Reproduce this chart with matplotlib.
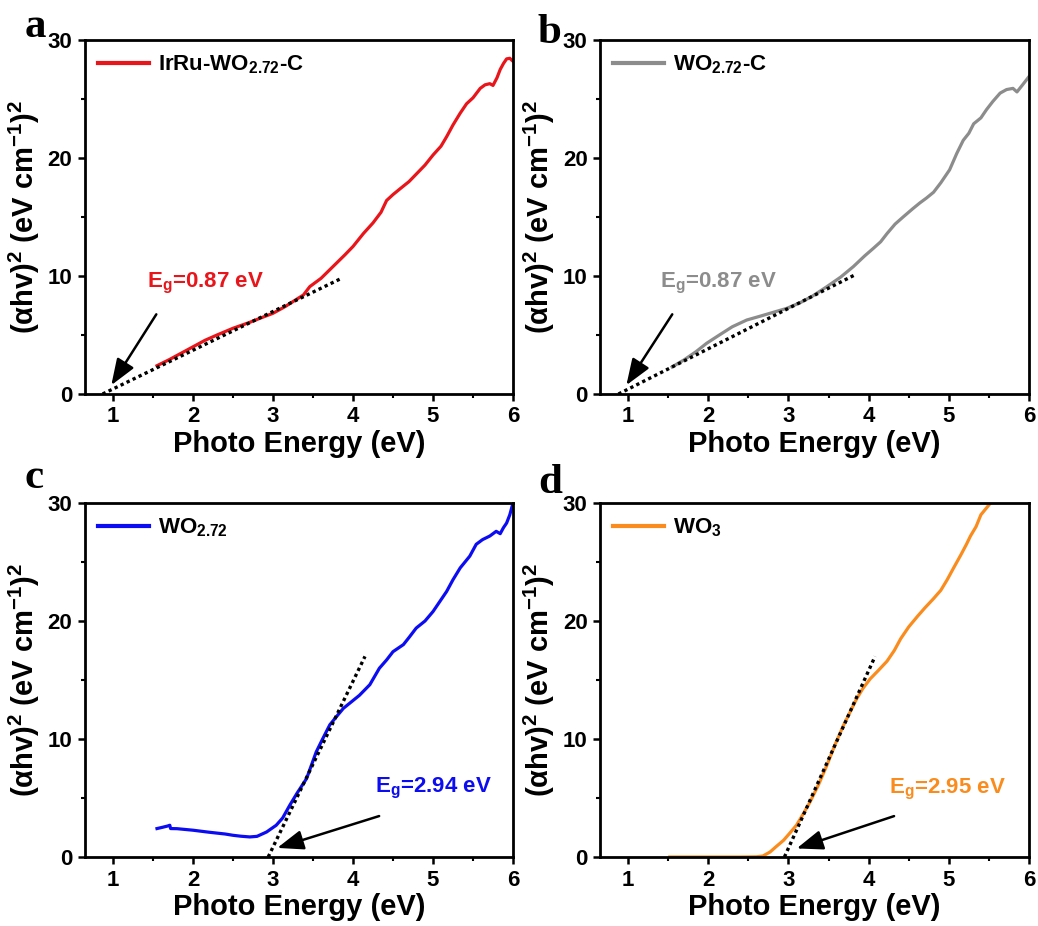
import matplotlib
matplotlib.use("Agg")
import matplotlib.pyplot as plt

plt.rcParams["font.family"] = "Liberation Sans"
plt.rcParams["font.weight"] = "bold"
plt.rcParams["mathtext.fontset"] = "custom"
plt.rcParams["mathtext.rm"] = "Liberation Sans:bold"
plt.rcParams["mathtext.bf"] = "Liberation Sans:bold"
plt.rcParams["mathtext.it"] = "Liberation Sans:bold"
plt.rcParams["mathtext.default"] = "bf"

# Tauc plots, (alpha h nu)^2 vs photon energy
a_x = [1.55, 1.70, 1.85, 2.00, 2.15, 2.30, 2.50, 2.70, 2.85, 3.00, 3.15, 3.30, 3.38, 3.46,
       3.60, 3.75, 3.90, 4.00, 4.13, 4.25, 4.35, 4.42, 4.50, 4.59, 4.70, 4.80, 4.90,
       5.00, 5.10, 5.17, 5.25, 5.34, 5.42, 5.50, 5.59, 5.65, 5.71, 5.75, 5.80, 5.84,
       5.88, 5.92, 5.96, 6.00]
a_y = [2.40, 2.90, 3.45, 4.00, 4.55, 5.00, 5.57, 6.05, 6.45, 6.84, 7.40, 8.05, 8.39, 9.10,
       9.80, 10.80, 11.80, 12.50, 13.60, 14.50, 15.40, 16.40, 16.90, 17.40, 18.00, 18.70, 19.40,
       20.25, 21.00, 21.80, 22.80, 23.80, 24.60, 25.10, 25.90, 26.20, 26.30, 26.15, 26.80, 27.50,
       28.00, 28.40, 28.45, 28.20]

b_x = [1.55, 1.70, 1.85, 1.98, 2.15, 2.30, 2.48, 2.65, 2.80, 2.98, 3.15, 3.30, 3.48, 3.65,
       3.81, 3.95, 4.06, 4.15, 4.23, 4.33, 4.43, 4.55, 4.64, 4.72, 4.81, 4.90, 5.01,
       5.10, 5.18, 5.25, 5.31, 5.40, 5.47, 5.55, 5.64, 5.72, 5.80, 5.85, 5.92, 6.00]
b_y = [2.30, 2.90, 3.60, 4.30, 5.05, 5.70, 6.27, 6.60, 6.90, 7.26, 7.75, 8.30, 9.10, 9.90,
       10.80, 11.70, 12.35, 12.90, 13.60, 14.40, 15.00, 15.70, 16.20, 16.60, 17.10, 17.90, 19.00,
       20.40, 21.50, 22.10, 22.90, 23.40, 24.10, 24.80, 25.50, 25.80, 25.90, 25.60, 26.20, 26.90]

c_x = [1.55, 1.62, 1.68, 1.71, 1.72, 1.80, 2.00, 2.20, 2.40, 2.50, 2.60, 2.71, 2.80, 2.92,
       3.04, 3.12, 3.21, 3.30, 3.42, 3.54, 3.62, 3.71, 3.80, 3.88, 3.98, 4.08, 4.21,
       4.33, 4.42, 4.50, 4.63, 4.70, 4.79, 4.90, 5.00, 5.08, 5.17, 5.25, 5.34, 5.46,
       5.54, 5.62, 5.71, 5.79, 5.84, 5.88, 5.92, 5.96, 6.00]
c_y = [2.41, 2.52, 2.62, 2.69, 2.41, 2.40, 2.27, 2.10, 1.95, 1.84, 1.76, 1.70, 1.75, 2.12,
       2.69, 3.30, 4.39, 5.40, 6.65, 8.90, 10.00, 11.20, 11.95, 12.60, 13.15, 13.70, 14.60,
       16.00, 16.70, 17.40, 18.00, 18.60, 19.40, 20.00, 20.80, 21.60, 22.50, 23.50, 24.50, 25.50,
       26.50, 26.90, 27.20, 27.60, 27.40, 27.90, 28.30, 29.00, 30.00]

d_x = [1.52, 1.80, 2.10, 2.40, 2.60, 2.68, 2.77, 2.85, 2.94, 3.02, 3.10, 3.18, 3.27, 3.38,
       3.48, 3.58, 3.69, 3.77, 3.85, 3.93, 4.02, 4.12, 4.23, 4.32, 4.40, 4.50, 4.61,
       4.70, 4.81, 4.90, 4.98, 5.06, 5.15, 5.22, 5.27, 5.34, 5.40, 5.46, 5.52]
d_y = [0.00, 0.00, 0.00, 0.00, 0.02, 0.08, 0.42, 0.90, 1.42, 2.05, 2.69, 3.60, 4.67, 6.20,
       7.78, 9.50, 11.20, 12.30, 13.40, 14.30, 15.10, 15.80, 16.60, 17.50, 18.50, 19.50, 20.40,
       21.10, 21.90, 22.60, 23.50, 24.50, 25.60, 26.50, 27.20, 28.00, 29.00, 29.50, 30.00]

labels = ["IrRu-WO$_{2.72}$-C", "WO$_{2.72}$-C", "WO$_{2.72}$", "WO$_{3}$"]
colors = ["#e8151b", "#8c8c8c", "#0c0cf2", "#fa8c1e"]
panel_letters = ["a", "b", "c", "d"]
gap_values = [0.87, 0.87, 2.94, 2.95]

# tangent line ends (x0 at y=0, then x1, y1)
fit_lines = [[(0.87, 0.0), (3.84, 9.75)],
             [(0.88, 0.0), (3.83, 10.1)],
             [(2.94, 0.0), (4.15, 17.0)],
             [(2.95, 0.0), (4.08, 17.0)]]
# E_g label centre, arrow tail, arrow head
gap_text_pos = [(2.15, 9.4), (2.13, 9.4), (5.0, 5.8), (4.98, 5.7)]
arrow_tail = [(1.56, 6.95), (1.57, 6.95), (4.36, 3.54), (4.35, 3.54)]
arrow_head = [(0.96, 0.55), (0.96, 0.55), (3.02, 0.7), (3.07, 0.65)]

series_x = [a_x, b_x, c_x, d_x]
series_y = [a_y, b_y, c_y, d_y]

W, H = 1038, 926
fig = plt.figure(figsize=(W / 100, H / 100), dpi=100)

boxes = [(85, 40, 513, 394), (600, 40, 1029, 394),
         (85, 503, 513, 857), (600, 503, 1029, 857)]
letter_pos = [(25, 37), (538, 43), (25, 488), (538, 493)]

for i in range(4):
    x0, y0, x1, y1 = boxes[i]
    ax = fig.add_axes([x0 / W, 1 - y1 / H, (x1 - x0) / W, (y1 - y0) / H])

    ax.plot(series_x[i], series_y[i], color=colors[i], lw=2.3, label=labels[i],
            solid_joinstyle="round", zorder=2)
    (fx0, fy0), (fx1, fy1) = fit_lines[i]
    ax.plot([fx0, fx1], [fy0, fy1], color="black", lw=2.4, dashes=(1.0, 1.0), zorder=3)

    ax.annotate("", xy=arrow_head[i], xytext=arrow_tail[i],
                arrowprops=dict(arrowstyle="-|>,head_length=0.8,head_width=0.3",
                                color="black", lw=1.8, mutation_scale=20))
    ax.text(*gap_text_pos[i], "E$_g$=%.2f eV" % gap_values[i], color=colors[i],
            fontsize=16, fontweight="bold", ha="center", va="center")

    ax.set_xlim(0.65, 6)
    ax.set_ylim(0, 30)
    ax.set_xticks([1, 2, 3, 4, 5, 6])
    ax.set_xticks([1.5, 2.5, 3.5, 4.5, 5.5], minor=True)
    ax.set_yticks([0, 10, 20, 30])
    ax.set_yticks([5, 15, 25], minor=True)
    ax.tick_params(which="major", direction="out", length=5, width=1.8,
                   labelsize=16, pad=4)
    ax.tick_params(which="minor", direction="out", length=3, width=1.5)
    for lab in ax.get_xticklabels() + ax.get_yticklabels():
        lab.set_fontweight("bold")
    for sp in ax.spines.values():
        sp.set_linewidth(2.0)

    ax.set_xlabel("Photo Energy (eV)", fontsize=21, fontweight="bold", labelpad=2)
    ax.set_ylabel("(αhv)$^2$ (eV cm$^{-1}$)$^2$", fontsize=21, fontweight="bold",
                  labelpad=4)

    leg = ax.legend(loc="upper left", frameon=False, fontsize=16, handlelength=2.3,
                    handletextpad=0.4, borderaxespad=0.3, borderpad=0.3)
    for line in leg.get_lines():
        line.set_linewidth(3)

    lx, ly = letter_pos[i]
    fig.text(lx / W, 1 - ly / H, panel_letters[i], fontsize=31, fontweight="bold",
             family="Liberation Serif", ha="left", va="baseline")

fig.savefig("out.png", dpi=100)
